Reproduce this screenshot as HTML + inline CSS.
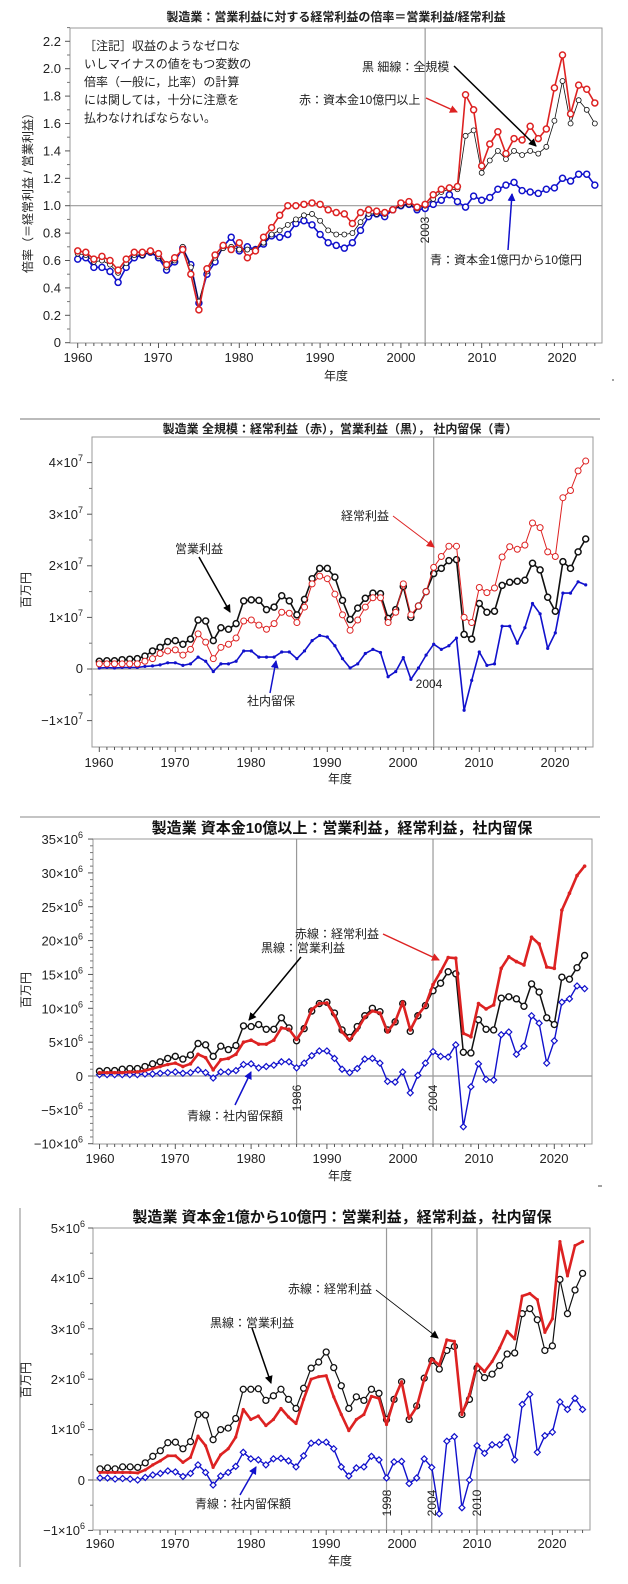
<!DOCTYPE html>
<html><head><meta charset="utf-8">
<style>
html,body{margin:0;padding:0;background:#fff;}
svg{display:block;font-family:"Liberation Sans","Noto Sans CJK JP",sans-serif;}
.t{font-size:12px;fill:#222;}
.tk{font-size:13px;fill:#222;}
.ti{font-size:12px;font-weight:bold;fill:#222;}
.ti2{font-size:15px;font-weight:bold;fill:#111;}
</style></head><body>
<svg id="s" width="628" height="1584" viewBox="0 0 628 1584" xmlns="http://www.w3.org/2000/svg">
<defs>
<marker id="ak" markerWidth="8" markerHeight="8" refX="7" refY="4" orient="auto" markerUnits="userSpaceOnUse"><path d="M0,0 L8,4 L0,8 z" fill="#000"/></marker>
<marker id="ar" markerWidth="8" markerHeight="8" refX="7" refY="4" orient="auto" markerUnits="userSpaceOnUse"><path d="M0,0 L8,4 L0,8 z" fill="#d22"/></marker>
<marker id="ab" markerWidth="8" markerHeight="8" refX="7" refY="4" orient="auto" markerUnits="userSpaceOnUse"><path d="M0,0 L8,4 L0,8 z" fill="#11c"/></marker>
</defs>
<g id="g"></g>

<!-- ===== Chart 1 ===== -->
<text class="ti" x="336" y="21" text-anchor="middle">製造業：営業利益に対する経常利益の倍率＝営業利益/経常利益</text>
<g id="c1ticks" class="tk" text-anchor="end"></g>
<g class="tk" text-anchor="middle">
<text x="78" y="362">1960</text><text x="158" y="362">1970</text><text x="239" y="362">1980</text><text x="320" y="362">1990</text><text x="401" y="362">2000</text><text x="482" y="362">2010</text><text x="562" y="362">2020</text>
</g>
<text class="t" x="336" y="380" text-anchor="middle">年度</text>
<text class="t" transform="translate(32,190) rotate(-90)" text-anchor="middle">倍率（＝経常利益 / 営業利益）</text>
<text class="t" transform="translate(429,230) rotate(-90)" text-anchor="middle">2003</text>
<g class="t">
<text x="84" y="50">［注記］収益のようなゼロな</text>
<text x="84" y="68">いしマイナスの値をもつ変数の</text>
<text x="84" y="86">倍率（一般に，比率）の計算</text>
<text x="84" y="104">には関しては，十分に注意を</text>
<text x="84" y="122">払わなければならない。</text>
<text x="362" y="71">黒 細線：全規模</text>
<text x="299" y="104">赤：資本金10億円以上</text>
<text x="430" y="264">青：資本金1億円から10億円</text>
</g>
<line x1="454" y1="66" x2="536" y2="146" stroke="#000" stroke-width="1.5" marker-end="url(#ak)"/>
<line x1="426" y1="98" x2="457" y2="112" stroke="#d22" stroke-width="1.5" marker-end="url(#ar)"/>
<line x1="508" y1="250" x2="512" y2="194" stroke="#11c" stroke-width="1.5" marker-end="url(#ab)"/>
<line x1="612" y1="380" x2="614" y2="380" stroke="#444"/>

<!-- ===== Chart 2 ===== -->
<line x1="20" y1="419" x2="600" y2="419" stroke="#777" stroke-width="1"/>
<text class="ti" x="340" y="433" text-anchor="middle">製造業 全規模：経常利益（赤），営業利益（黒）， 社内留保（青）</text>
<g class="tk" text-anchor="end">
<text x="83" y="467">4×10<tspan font-size="9" dy="-6">7</tspan></text>
<text x="83" y="519">3×10<tspan font-size="9" dy="-6">7</tspan></text>
<text x="83" y="570">2×10<tspan font-size="9" dy="-6">7</tspan></text>
<text x="83" y="622">1×10<tspan font-size="9" dy="-6">7</tspan></text>
<text x="83" y="673">0</text>
<text x="83" y="725">−1×10<tspan font-size="9" dy="-6">7</tspan></text>
</g>
<g class="tk" text-anchor="middle">
<text x="99" y="767">1960</text><text x="175" y="767">1970</text><text x="251" y="767">1980</text><text x="327" y="767">1990</text><text x="403" y="767">2000</text><text x="479" y="767">2010</text><text x="555" y="767">2020</text>
</g>
<text class="t" x="340" y="783" text-anchor="middle">年度</text>
<text class="t" transform="translate(30,590) rotate(-90)" text-anchor="middle">百万円</text>
<text class="t" x="429" y="688" text-anchor="middle">2004</text>
<g class="t">
<text x="341" y="520">経常利益</text>
<text x="175" y="553">営業利益</text>
<text x="247" y="705">社内留保</text>
</g>
<line x1="393" y1="516" x2="434" y2="547" stroke="#d22" stroke-width="1" marker-end="url(#ar)"/>
<line x1="199" y1="557" x2="230" y2="612" stroke="#000" stroke-width="1.5" marker-end="url(#ak)"/>
<line x1="270" y1="693" x2="276" y2="661" stroke="#11c" stroke-width="1.5" marker-end="url(#ab)"/>

<!-- ===== Chart 3 ===== -->
<line x1="20" y1="817" x2="600" y2="817" stroke="#888" stroke-width="1"/>
<text class="ti2" x="342" y="833" text-anchor="middle">製造業 資本金10億以上：営業利益，経常利益，社内留保</text>
<g class="tk" text-anchor="end" id="c3y"></g>
<g class="tk" text-anchor="middle">
<text x="100" y="1163">1960</text><text x="175" y="1163">1970</text><text x="251" y="1163">1980</text><text x="327" y="1163">1990</text><text x="403" y="1163">2000</text><text x="479" y="1163">2010</text><text x="554" y="1163">2020</text>
</g>
<text class="t" x="340" y="1180" text-anchor="middle">年度</text>
<text class="t" transform="translate(30,990) rotate(-90)" text-anchor="middle">百万円</text>
<text class="t" transform="translate(301,1098) rotate(-90)" text-anchor="middle">1986</text>
<text class="t" transform="translate(437,1098) rotate(-90)" text-anchor="middle">2004</text>
<g class="t">
<text x="295" y="938">赤線：経常利益</text>
<text x="261" y="952">黒線：営業利益</text>
<text x="187" y="1120">青線：社内留保額</text>
</g>
<line x1="383" y1="934" x2="439" y2="960" stroke="#d22" stroke-width="1.5" marker-end="url(#ar)"/>
<line x1="301" y1="957" x2="249" y2="1020" stroke="#000" stroke-width="1.5" marker-end="url(#ak)"/>
<line x1="235" y1="1105" x2="251" y2="1072" stroke="#11c" stroke-width="1.5" marker-end="url(#ab)"/>

<!-- ===== Chart 4 ===== -->
<line x1="20" y1="1208" x2="20" y2="1567" stroke="#888" stroke-width="1"/>
<line x1="598" y1="1186" x2="602" y2="1186" stroke="#444"/>
<text class="ti2" x="342" y="1222" text-anchor="middle">製造業 資本金1億から10億円：営業利益，経常利益，社内留保</text>
<g class="tk" text-anchor="end">
<text x="85" y="1233">5×10<tspan font-size="9" dy="-6">6</tspan></text>
<text x="85" y="1283">4×10<tspan font-size="9" dy="-6">6</tspan></text>
<text x="85" y="1334">3×10<tspan font-size="9" dy="-6">6</tspan></text>
<text x="85" y="1384">2×10<tspan font-size="9" dy="-6">6</tspan></text>
<text x="85" y="1434">1×10<tspan font-size="9" dy="-6">6</tspan></text>
<text x="85" y="1485">0</text>
<text x="85" y="1535">−1×10<tspan font-size="9" dy="-6">6</tspan></text>
</g>
<g class="tk" text-anchor="middle">
<text x="100" y="1548">1960</text><text x="175" y="1548">1970</text><text x="251" y="1548">1980</text><text x="326" y="1548">1990</text><text x="402" y="1548">2000</text><text x="477" y="1548">2010</text><text x="552" y="1548">2020</text>
</g>
<text class="t" x="340" y="1565" text-anchor="middle">年度</text>
<text class="t" transform="translate(30,1380) rotate(-90)" text-anchor="middle">百万円</text>
<text class="t" transform="translate(391,1503) rotate(-90)" text-anchor="middle">1998</text>
<text class="t" transform="translate(436,1503) rotate(-90)" text-anchor="middle">2004</text>
<text class="t" transform="translate(481,1503) rotate(-90)" text-anchor="middle">2010</text>
<g class="t">
<text x="288" y="1293">赤線：経常利益</text>
<text x="210" y="1327">黒線：営業利益</text>
<text x="195" y="1508">青線：社内留保額</text>
</g>
<line x1="376" y1="1290" x2="438" y2="1338" stroke="#000" stroke-width="0.8" marker-end="url(#ak)"/>
<line x1="252" y1="1328" x2="271" y2="1383" stroke="#000" stroke-width="1.5" marker-end="url(#ak)"/>
<line x1="240" y1="1495" x2="256" y2="1467" stroke="#11c" stroke-width="1.5" marker-end="url(#ab)"/>
</svg>
<script>
(function(){
var NS="http://www.w3.org/2000/svg",g=document.getElementById('g');
function el(n,a){var e=document.createElementNS(NS,n);for(var k in a)e.setAttribute(k,a[k]);g.appendChild(e);return e;}
function line(x1,y1,x2,y2,c,w){el('line',{x1:x1,y1:y1,x2:x2,y2:y2,stroke:c,'stroke-width':w||1});}
function chart(c){
  var X=function(yr){return c.x0+(yr-1960)*c.px;}, Y=function(v){return c.y0-v*c.py;};
  el('rect',{x:c.L,y:c.T,width:c.R-c.L,height:c.B-c.T,fill:'none',stroke:'#999','stroke-width':1});
  for(var yr=1960;yr<=2024;yr++){var big=yr%10==0;line(X(yr),c.B,X(yr),c.B+(big?5:3),'#555',1);}
  c.yt.forEach(function(v){line(c.L-5,Y(v),c.L,Y(v),'#555',1);});
  (c.ym||[]).forEach(function(v){line(c.L-3,Y(v),c.L,Y(v),'#777',1);});
  line(c.L,Y(c.h),c.R,Y(c.h),'#999',1.2);
  c.v.forEach(function(yr){line(X(yr),c.T,X(yr),c.B,'#999',1.2);});
  c.s.forEach(function(s){
    var pts=s.d.map(function(v,i){return X(1960+i).toFixed(1)+','+Y(v).toFixed(1);});
    el('polyline',{points:pts.join(' '),fill:'none',stroke:s.c,'stroke-width':s.w,'stroke-linejoin':'round'});
    s.d.forEach(function(v,i){var x=X(1960+i),y=Y(v);
      if(s.m=='o')el('circle',{cx:x,cy:y,r:s.r,fill:'#fff',stroke:s.c,'stroke-width':s.mw});
      else if(s.m=='d'){var r=s.r;el('path',{d:'M'+x+','+(y-r)+'L'+(x+r)+','+y+'L'+x+','+(y+r)+'L'+(x-r)+','+y+'Z',fill:'#fff',stroke:s.c,'stroke-width':s.mw});}
      else if(s.m=='+'){el('circle',{cx:x,cy:y,r:s.r,fill:s.c});}
    });
  });
}
var r1=[.67,.66,.61,.63,.60,.53,.61,.66,.66,.67,.65,.57,.62,.68,.50,.24,.54,.64,.71,.68,.73,.62,.67,.77,.84,.93,1.0,1.0,1.01,1.02,1.01,.97,.95,.94,.87,.95,.97,.96,.95,.97,1.02,1.03,.99,1.01,1.08,1.12,1.13,1.14,1.81,1.70,1.29,1.45,1.54,1.38,1.49,1.48,1.58,1.49,1.56,1.86,2.10,1.67,1.88,1.85,1.75];
var k1=[.65,.64,.59,.60,.57,.51,.58,.64,.64,.66,.63,.55,.60,.70,.55,.30,.52,.62,.69,.70,.68,.68,.68,.73,.79,.82,.86,.90,.93,.94,.89,.82,.79,.79,.80,.88,.94,.94,.94,.97,1.0,1.01,.98,1.0,1.05,1.10,1.12,1.12,1.51,1.55,1.24,1.33,1.40,1.34,1.40,1.37,1.40,1.38,1.43,1.62,1.91,1.60,1.77,1.70,1.60];
var b1=[.61,.62,.55,.55,.52,.44,.55,.62,.64,.66,.62,.53,.59,.69,.57,.29,.50,.59,.70,.77,.67,.70,.68,.72,.78,.77,.79,.87,.89,.86,.79,.73,.71,.69,.73,.82,.92,.94,.92,.97,1.0,1.01,.97,.98,1.01,1.04,1.08,1.03,.99,1.07,1.04,1.06,1.12,1.15,1.17,1.11,1.10,1.09,1.12,1.13,1.20,1.18,1.23,1.23,1.15];
var yt1=[],ym1=[];for(var i=0;i<=11;i++){yt1.push(i*.2);ym1.push(i*.2+.1);}
chart({L:70,R:602,T:28,B:343,x0:77.7,px:8.08,y0:342.7,py:137,h:1,v:[2003],yt:yt1,ym:ym1,
 s:[{d:b1,c:'#11c',w:1.6,m:'o',r:3,mw:1.5},{d:k1,c:'#111',w:0.8,m:'o',r:2.5,mw:0.8},{d:r1,c:'#d22',w:1.6,m:'o',r:3,mw:1.5}]});
var c1=document.getElementById('c1ticks');
for(var i=0;i<=11;i++){var v=i*.2,t=document.createElementNS(NS,'text');t.setAttribute('x',61);t.setAttribute('y',(342.7-v*137+4.5).toFixed(1));t.textContent=(i==0?'0':v.toFixed(1));c1.appendChild(t);}

var r2=[.1,.1,.1,.1,.1,.1,.15,.2,.3,.35,.37,.27,.38,.68,.52,.2,.42,.48,.6,.93,.95,.85,.77,.88,1.1,1.08,.9,1.2,1.65,1.8,1.75,1.45,1.05,.75,.95,1.2,1.38,1.38,.9,1.1,1.65,1.05,1.22,1.5,1.97,2.18,2.38,2.38,1.0,.9,1.58,1.48,1.57,2.17,2.37,2.32,2.4,2.83,2.74,2.27,2.18,3.32,3.46,3.84,4.03];
var k2=[.15,.16,.16,.18,.19,.2,.25,.35,.42,.53,.55,.48,.58,.95,.93,.55,.8,.77,.88,1.32,1.34,1.33,1.15,1.2,1.42,1.32,1.05,1.35,1.75,1.95,1.95,1.78,1.33,.96,1.18,1.37,1.47,1.46,.98,1.15,1.6,1.0,1.22,1.5,1.85,1.95,2.1,2.12,.67,.58,1.27,1.1,1.12,1.62,1.68,1.7,1.72,2.05,1.92,1.39,1.12,2.08,1.95,2.27,2.52];
var b2=[.02,.03,.02,.03,.03,.03,.05,.06,.08,.12,.12,.07,.1,.23,.15,-.05,.1,.1,.15,.35,.35,.23,.23,.23,.33,.33,.2,.35,.55,.65,.62,.45,.2,.02,.1,.3,.38,.32,-.15,-.05,.22,-.2,.02,.27,.48,.38,.45,.6,-.8,-.22,.33,.07,.1,.83,.83,.5,.8,1.27,1.07,.4,.7,1.47,1.47,1.69,1.63];
chart({L:92,R:593,T:437,B:747,x0:99.3,px:7.6,y0:669,py:51.6,h:0,v:[2004],yt:[-1,0,1,2,3,4],ym:[-.5,.5,1.5,2.5,3.5],
 s:[{d:b2,c:'#11c',w:1.6,m:'+',r:1.6,mw:1},{d:k2,c:'#111',w:1.6,m:'o',r:3,mw:1.5},{d:r2,c:'#d22',w:1,m:'o',r:3,mw:1}]});

var r3=[.5,.5,.5,.5,.6,.6,.8,1.1,1.4,1.7,1.9,1.4,1.8,3.2,2.7,.9,2.4,2.6,3.2,5.0,5.3,4.7,4.7,5.3,7.1,6.9,5.4,7.1,9.8,10.7,10.8,8.9,6.5,5.3,6.8,8.7,9.6,9.3,6.5,8.0,10.9,6.8,9.0,10.4,13.5,15.4,17.5,17.4,6.3,5.8,10.7,9.9,10.5,15.9,17.6,16.9,16.4,20.5,19.5,16.1,15.9,24.5,27.0,29.6,31.0];
var k3=[.7,.8,.8,1.0,1.1,1.1,1.4,1.8,2.1,2.6,2.9,2.5,3.1,4.8,4.6,2.9,4.4,3.9,4.5,7.4,7.3,7.6,6.9,6.9,8.6,7.1,5.2,7.0,9.6,10.7,10.9,9.3,6.8,5.7,7.3,8.9,10.0,9.5,6.8,8.0,10.7,6.6,8.9,10.4,12.6,13.7,15.4,15.1,3.5,3.4,8.3,6.9,6.8,11.5,11.7,11.4,10.3,13.6,12.4,8.6,7.6,14.6,14.3,16.0,17.8];
var b3=[.2,.2,.2,.2,.2,.2,.3,.3,.4,.5,.6,.4,.5,.9,.5,-.3,.6,.6,.8,1.7,1.8,1.2,1.4,1.6,2.1,2.1,1.2,1.9,3.0,3.7,3.7,2.6,1.0,.5,1.1,2.5,2.6,1.9,-.8,-.9,.6,-2.5,.1,1.9,3.6,2.9,2.8,4.6,-7.5,-1.6,1.8,-.5,-.6,6.1,6.5,3.2,4.4,8.9,7.8,1.9,5.2,10.9,11.4,13.3,12.9];
var yt3=[],ym3=[];for(var v=-10;v<=35;v+=5)yt3.push(v);for(var v=-10;v<35;v+=1)if(v%5)ym3.push(v);
chart({L:93,R:592,T:839,B:1144,x0:99.5,px:7.58,y0:1076,py:6.77,h:0,v:[1986,2004],yt:yt3,ym:ym3,
 s:[{d:b3,c:'#11c',w:1.4,m:'d',r:3,mw:1.2},{d:k3,c:'#111',w:1.5,m:'o',r:3,mw:1.4},{d:r3,c:'#d22',w:2.6,m:'+',r:1.8,mw:1}]});
var c3=document.getElementById('c3y');
yt3.forEach(function(v){var t=document.createElementNS(NS,'text');t.setAttribute('x',83);t.setAttribute('y',(1076-v*6.77+5).toFixed(1));
 if(v==0)t.textContent='0';else{t.textContent=(v<0?'−':'')+Math.abs(v)+'×10';var ts=document.createElementNS(NS,'tspan');ts.setAttribute('font-size','9');ts.setAttribute('dy','-6');ts.textContent='6';t.appendChild(ts);}
 c3.appendChild(t);});

var r4=[.15,.15,.15,.15,.15,.14,.2,.3,.38,.48,.48,.35,.45,.87,.68,.25,.5,.62,.85,1.4,1.2,1.27,1.08,1.2,1.42,1.25,1.12,1.6,2.0,2.05,2.07,1.65,1.3,.98,1.2,1.3,1.66,1.62,1.1,1.6,1.95,1.22,1.45,2.0,2.4,2.28,2.78,2.75,1.3,1.7,2.3,2.15,2.35,2.62,2.95,2.8,3.65,3.7,3.58,2.93,3.2,4.73,4.05,4.65,4.73];
var k4=[.22,.24,.22,.26,.26,.25,.34,.47,.58,.74,.75,.62,.76,1.3,1.29,.8,1.0,1.03,1.22,1.8,1.8,1.81,1.58,1.67,1.8,1.6,1.42,1.82,2.22,2.34,2.54,2.23,1.87,1.42,1.65,1.58,1.8,1.72,1.2,1.6,1.95,1.2,1.47,2.02,2.37,2.2,2.57,2.65,1.3,1.6,2.22,2.03,2.1,2.27,2.5,2.52,3.3,3.4,3.18,2.57,2.66,3.98,3.3,3.77,4.1];
var b4=[.04,.04,.02,.03,.02,0,.05,.1,.13,.18,.16,.07,.13,.3,.15,-.1,.08,.15,.27,.55,.42,.4,.3,.42,.43,.38,.26,.48,.73,.75,.75,.62,.26,.08,.24,.26,.47,.4,.04,.36,.37,-.07,.04,.42,.25,-.67,.77,.86,-.55,0,.68,.53,.7,.7,.85,.4,1.5,1.7,.55,.88,.95,1.55,1.4,1.62,1.4];
chart({L:93,R:590,T:1228,B:1530,x0:100,px:7.54,y0:1480,py:50.4,h:0,v:[1998,2004,2010],yt:[-1,0,1,2,3,4,5],ym:[-.5,.5,1.5,2.5,3.5,4.5],
 s:[{d:b4,c:'#11c',w:1.4,m:'d',r:3,mw:1.2},{d:k4,c:'#111',w:1.2,m:'o',r:3,mw:1.3},{d:r4,c:'#d22',w:2.6,m:'+',r:1.6,mw:1}]});
})();
</script>
</body></html>
